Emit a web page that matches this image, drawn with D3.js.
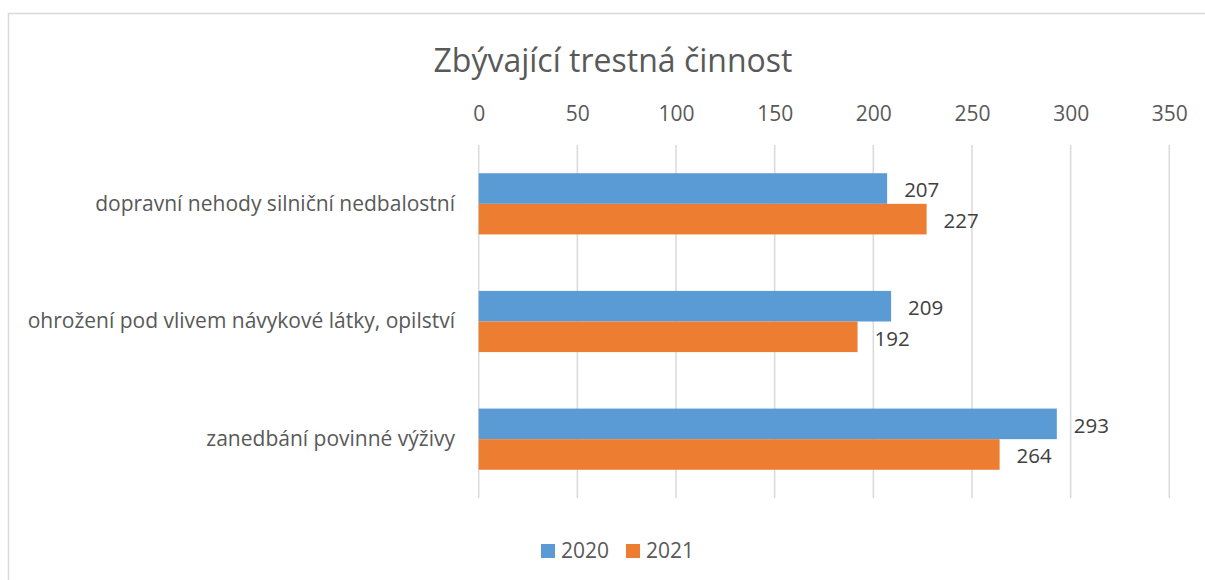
<!DOCTYPE html>
<html>
<head>
<meta charset="utf-8">
<script src="https://cdn.jsdelivr.net/npm/d3@7"></script>
<style>
  body { margin: 0; background: #fff; }
  text { font-family: "Open Sans", sans-serif; }
</style>
</head>
<body>
<div id="chart"></div>
<script>
const title = "Zbývající trestná činnost";
const categories = [
  "dopravní nehody silniční nedbalostní",
  "ohrožení pod vlivem návykové látky, opilství",
  "zanedbání povinné výživy"
];
const series = ["2020", "2021"];
const values2020 = [207, 209, 293];
const values2021 = [227, 192, 264];
const ticks = [0, 50, 100, 150, 200, 250, 300, 350];
const colors = ["#5b9bd5", "#ed7d31"];

const width = 1205, height = 580;
const values = [values2020, values2021];

const svg = d3.select("#chart").append("svg")
    .attr("width", width)
    .attr("height", height);

// chart frame
svg.append("rect")
    .attr("x", 8.5).attr("y", 13.5)
    .attr("width", width).attr("height", height)
    .attr("fill", "#fff")
    .attr("stroke", "#d9d9d9")
    .attr("stroke-width", 1.5);

svg.append("text")
    .attr("x", 613).attr("y", 72)
    .attr("text-anchor", "middle")
    .attr("font-size", 32)
    .attr("fill", "#595959")
    .text(title);

const x = d3.scaleLinear().domain([0, 350]).range([478.7, 1169.3]);
const y0 = d3.scaleBand().domain(categories).range([145, 498])
    .paddingInner(0.48).paddingOuter(0.24);
const y1 = d3.scaleBand().domain(series).range([0, y0.bandwidth()]);

// gridlines
svg.append("g").selectAll("line")
  .data(ticks)
  .join("line")
    .attr("x1", d => x(d)).attr("x2", d => x(d))
    .attr("y1", 145).attr("y2", 498)
    .attr("stroke", "#d9d9d9")
    .attr("stroke-width", 1.5);

// top axis labels
const xAxis = svg.append("g")
    .attr("transform", "translate(0,121)")
    .call(d3.axisTop(x).tickValues(ticks).tickSize(0).tickPadding(0));
xAxis.select(".domain").remove();
xAxis.selectAll("text")
    .attr("font-size", 21)
    .attr("font-family", "Open Sans, sans-serif")
    .attr("fill", "#595959");

// category labels
const yAxis = svg.append("g")
    .attr("transform", "translate(455,0)")
    .call(d3.axisLeft(y0).tickSize(0).tickPadding(0));
yAxis.select(".domain").remove();
yAxis.selectAll("text")
    .attr("font-size", 21)
    .attr("font-family", "Open Sans, sans-serif")
    .attr("fill", "#595959");

// bars
const rows = categories.flatMap((c, i) =>
  series.map((s, j) => ({cat: c, ser: s, val: values[j][i], col: colors[j]})));

svg.append("g").selectAll("rect")
  .data(rows)
  .join("rect")
    .attr("x", x(0))
    .attr("y", d => y0(d.cat) + y1(d.ser))
    .attr("width", d => x(d.val) - x(0))
    .attr("height", y1.bandwidth())
    .attr("fill", d => d.col);

svg.append("g").selectAll("text")
  .data(rows)
  .join("text")
    .attr("x", d => x(d.val) + 17)
    .attr("y", d => y0(d.cat) + y1(d.ser) + y1.bandwidth() / 2)
    .attr("dy", "0.43em")
    .attr("font-size", 20.5)
    .attr("fill", "#404040")
    .text(d => d.val);

// legend
const legendX = [541, 626];
const legend = svg.append("g").selectAll("g")
  .data(series)
  .join("g")
    .attr("transform", (d, i) => `translate(${legendX[i]},544)`);
legend.append("rect")
    .attr("width", 14).attr("height", 14)
    .attr("fill", (d, i) => colors[i]);
legend.append("text")
    .attr("x", 20).attr("y", 14)
    .attr("font-size", 21)
    .attr("fill", "#595959")
    .text(d => d);
</script>
</body>
</html>
